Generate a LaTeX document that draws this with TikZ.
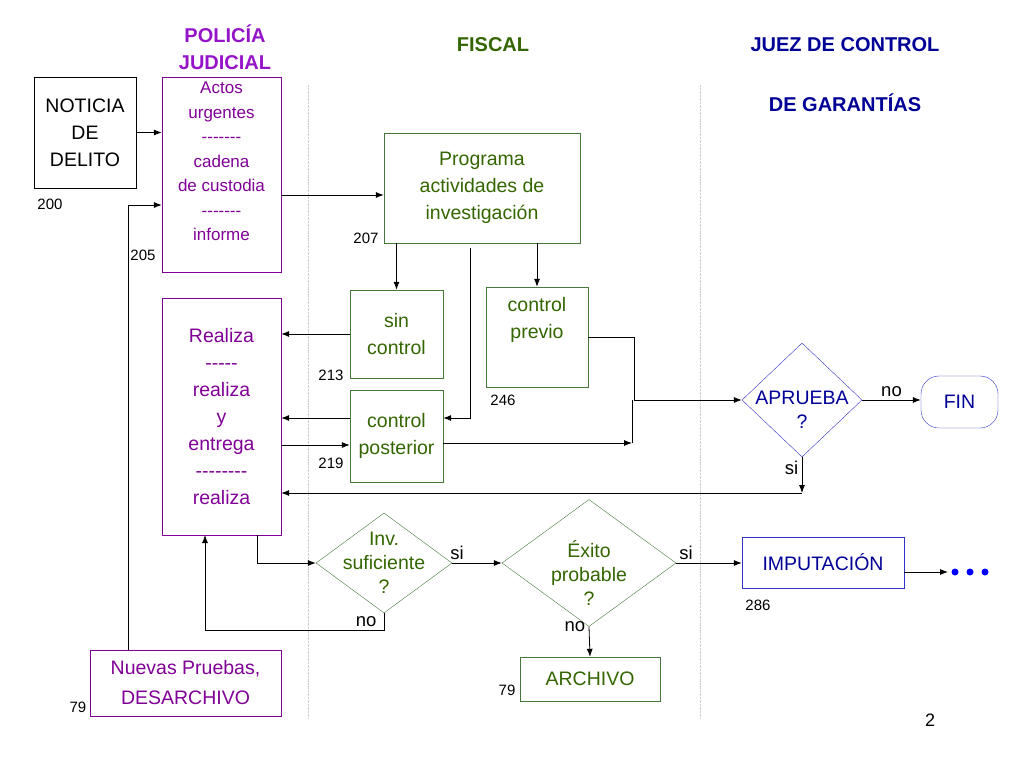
\documentclass[tikz,border=0pt]{standalone}
\usepackage{fontspec}
\setmainfont{Liberation Sans}
\usetikzlibrary{shapes.geometric,arrows.meta}
\definecolor{pj}{RGB}{128,0,150}
\definecolor{pjh}{RGB}{150,20,200}
\definecolor{fg}{RGB}{51,102,0}
\definecolor{fgb}{RGB}{70,120,60}
\definecolor{jb}{RGB}{0,0,150}
\definecolor{jbb}{RGB}{50,50,200}
\tikzset{
  box/.style={draw, rectangle, inner sep=0pt, align=center, font=\fontsize{19.5}{27}\selectfont},
  pbox/.style={box, draw=pj, text=pj},
  fbox/.style={box, draw=fgb, text=fg},
  dia/.style={draw, diamond, inner sep=0pt},
  dtext/.style={align=center, font=\fontsize{19.5}{24}\selectfont},
  num/.style={font=\fontsize{15}{17}\selectfont},
  lab/.style={font=\fontsize{18.5}{20}\selectfont},
  head/.style={font=\fontsize{20}{27}\selectfont\bfseries, align=center},
  arr/.style={-{Latex[length=8pt,width=6pt]}, thick},
  ln/.style={thick}
}
\begin{document}
\begin{tikzpicture}[x=1pt,y=-1pt]
\useasboundingbox (0,0) rectangle (1024,768);
% separadores
\draw[gray!40, densely dotted] (308,85) -- (308,718);
\draw[gray!40, densely dotted] (700,85) -- (700,718);
% encabezados
\node[head, text=pjh] at (225,47) {POLICÍA\\ JUDICIAL};
\node[head, text=fg] at (493,45) {FISCAL};
\node[head, text=jb] at (845,45) {JUEZ DE CONTROL};
\node[head, text=jb] at (845,103) {DE GARANTÍAS};
% cajas
\node[box, minimum width=102, minimum height=111] (not) at (85,132.5) {NOTICIA\\ DE\\ DELITO};
\node[pbox, minimum width=119, minimum height=195, anchor=north] (pol) at (221.5,77) {};
\node[pbox, draw=none, anchor=north, font=\fontsize{17}{24.5}\selectfont] at (221.5,82) {Actos\\ urgentes\\ -{}-{}-{}-{}-{}-{}-\\ cadena\\ de custodia\\ -{}-{}-{}-{}-{}-{}-\\ informe};
\node[fbox, minimum width=196, minimum height=110] (prog) at (482,188) {Programa\\ actividades de\\ investigación};
\node[fbox, minimum width=93, minimum height=88] (sin) at (396.5,334) {sin\\ control};
\node[fbox, minimum width=102, minimum height=100] (prev) at (537,337) {control\\ previo\\[12pt]};
\node[fbox, minimum width=93, minimum height=92] (post) at (396.5,436) {control\\ posterior};
\node[pbox, minimum width=119, minimum height=237] (rea) at (221.5,416.5) {Realiza\\ -{}-{}-{}-{}-\\ realiza\\ y\\ entrega\\ -{}-{}-{}-{}-{}-{}-{}-\\ realiza};
\node[pbox, minimum width=191, minimum height=66, font=\fontsize{19.5}{30}\selectfont] (nue) at (185.5,683) {Nuevas Pruebas,\\ DESARCHIVO};
\node[fbox, minimum width=140, minimum height=44] (arc) at (590,679) {ARCHIVO};
\node[box, draw=jbb, text=jb, minimum width=162, minimum height=51] (imp) at (823,562.5) {IMPUTACIÓN};
\node[box, draw=jbb, text=jb, rounded corners=18pt, minimum width=77, minimum height=52] (fin) at (959.5,402) {FIN};
% decisiones
\node[dia, draw=fgb, minimum width=136, minimum height=100] (inv) at (384,563) {};
\node[dtext, text=fg] at (384,563) {Inv.\\ suficiente\\ ?};
\node[dia, draw=fgb, minimum width=174, minimum height=127] (exi) at (589,563) {};
\node[dtext, text=fg] at (589,573) {Éxito\\ probable\\ ?};
\node[dia, draw=jbb, minimum width=120, minimum height=114] (apr) at (802,400) {};
\node[dtext, text=jb] at (802,410) {APRUEBA\\ ?};
\coordinate (dots) at (948,572);
\foreach \x in {955,970,985} \fill[blue] (\x,572) circle (3.5);
% numeros
\node[num] at (50,204) {200};
\node[num] at (143,255) {205};
\node[num] at (366,238) {207};
\node[num] at (331,375) {213};
\node[num] at (331,463) {219};
\node[num] at (503,400) {246};
\node[num] at (758,605) {286};
\node[num] at (507,690) {79};
\node[num] at (78,707) {79};
\node[font=\fontsize{18}{20}\rmfamily] at (930,720) {2};
% conectores
\draw[arr] (not.east) -- (not.east -| pol.west);
\draw[arr] (nue.north -| 128,0) -- (128,205) -- (128,205 -| pol.west);
\draw[arr] (pol.east |- 0,195) -- (prog.west |- 0,195);
\draw[arr] (prog.south -| sin.north) -- (sin.north);
\draw[arr] (prog.south -| prev.north) -- (prev.north);
\draw[arr] (470,248) -- (470,418) -- (post.east |- 0,418);
\draw[arr] (sin.west) -- (sin.west -| rea.east);
\draw[arr] (post.west |- 0,418) -- (rea.east |- 0,418);
\draw[arr] (rea.east |- 0,445) -- (post.west |- 0,445);
\draw[ln] (prev.east) -- (634,337) -- (634,400);
\draw[arr] (634,400) -- (apr.west);
\draw[arr] (post.east |- 0,443) -- (632,443);
\draw[ln] (632,443) -- (632,400);
\draw[arr] (apr.east) -- node[lab, above] {no} (apr.east -| fin.west);
\coordinate (ret) at (802,493);
\draw[arr] (apr.south) -- node[lab, left, pos=0.3] {si} (ret);
\draw[arr] (ret) -- (ret -| rea.east);
\draw[arr] (257,535) -- (257,563) -- (inv.west);
\draw[arr] (inv.east) -- node[lab, above, pos=0.1] {si} (exi.west);
\draw[arr] (exi.east) -- node[lab, above, pos=0.15] {si} (exi.east -| imp.west);
\draw[arr] (imp.east |- dots) -- (dots);
\draw[arr] (inv.south) -- (384,630) -- node[lab, above, pos=0.1] {no} (205,630) -- (205,535);
\draw[arr] (exi.south) -- node[lab, left, pos=0.0] {no} (arc.north);
\end{tikzpicture}
\end{document}
